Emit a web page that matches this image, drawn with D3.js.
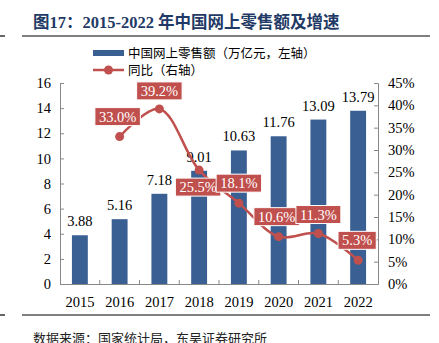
<!DOCTYPE html>
<html><head><meta charset="utf-8">
<script src="https://cdn.jsdelivr.net/npm/d3@7"></script>
<style>body{margin:0;background:#fff}svg{display:block}</style>
</head><body>
<svg id="c" width="439" height="343"></svg>
<script>
const years = ["2015","2016","2017","2018","2019","2020","2021","2022"];
const sales = [3.88,5.16,7.18,9.01,10.63,11.76,13.09,13.79];
const growth = [null,33.0,39.2,25.5,18.1,10.6,11.3,5.3];
const leftTicks = [0,2,4,6,8,10,12,14,16];
const rightTicks = [0,5,10,15,20,25,30,35,40,45];

const svg = d3.select("#c");
const serif = "'Liberation Serif','Times New Roman',serif";
const cjk = "'Liberation Serif','Noto Sans CJK SC',sans-serif";
const blue = "#3A5F93", red = "#C0504D";
const L = 60, R = 378, T = 83, B = 284;

// title and rules
svg.append("text").attr("x",33).attr("y",28).attr("fill","#1F3A66")
  .attr("font-family",cjk).attr("font-weight","bold").attr("font-size",16.5)
  .text("图17：2015-2022 年中国网上零售额及增速");
[[36],[315]].forEach(([y])=>{
  svg.append("line").attr("x1",0).attr("x2",5).attr("y1",y).attr("y2",y).attr("stroke","#000").attr("stroke-width",1.2);
  svg.append("line").attr("x1",22).attr("x2",430).attr("y1",y).attr("y2",y).attr("stroke","#000").attr("stroke-width",1.2);
});
svg.append("text").attr("x",33).attr("y",343).attr("fill","#222")
  .attr("font-family","'Noto Sans CJK SC',sans-serif").attr("font-size",13)
  .text("数据来源：国家统计局，东吴证券研究所");

const x = d3.scaleBand().domain(years).range([L,R]).paddingInner(0.6).paddingOuter(0.3);
const xc = d => x(d) + x.bandwidth()/2;
const yl = d3.scaleLinear().domain([0,16]).range([B,T]);
const yr = d3.scaleLinear().domain([0,45]).range([B,T]);

// bars
svg.selectAll("rect.bar").data(years).join("rect").attr("class","bar")
  .attr("x",d=>x(d)).attr("width",x.bandwidth())
  .attr("y",(d,i)=>yl(sales[i])).attr("height",(d,i)=>B-yl(sales[i]))
  .attr("fill",blue);
svg.selectAll("text.bl").data(years).join("text").attr("class","bl")
  .attr("x",d=>xc(d)).attr("y",(d,i)=>yl(sales[i])-9)
  .attr("text-anchor","middle").attr("font-family",serif).attr("font-size",14.5)
  .text((d,i)=>sales[i].toFixed(2));

// axes
const gl = svg.append("g").attr("transform",`translate(${L},0)`)
  .call(d3.axisLeft(yl).tickValues(leftTicks).tickSize(-4).tickPadding(9));
const gr = svg.append("g").attr("transform",`translate(${R},0)`)
  .call(d3.axisRight(yr).tickValues(rightTicks).tickSize(-4).tickPadding(10).tickFormat(d=>d+"%"));
const gx = svg.append("g").attr("transform",`translate(0,${B})`)
  .call(d3.axisBottom(x).tickSize(0).tickPadding(13));
[gl,gr,gx].forEach(g=>{
  g.select(".domain").attr("stroke","#888");
  g.selectAll(".tick line").attr("stroke","#888");
  g.selectAll("text").attr("font-family",serif).attr("font-size",14.5).attr("fill","#000");
});
const bounds = d3.range(1,years.length).map(i=>x(years[i]) - x.step()*x.paddingInner()/2);
svg.selectAll("line.sep").data(bounds).join("line").attr("class","sep")
  .attr("x1",d=>d).attr("x2",d=>d).attr("y1",B).attr("y2",B-4).attr("stroke","#888");

// line
const pts = years.map((d,i)=>({x:xc(d),y:growth[i]==null?null:yr(growth[i]),v:growth[i]})).filter(p=>p.v!=null);
svg.append("path").datum(pts)
  .attr("d",d3.line().x(p=>p.x).y(p=>p.y).curve(d3.curveCatmullRom.alpha(0.5)))
  .attr("fill","none").attr("stroke",red).attr("stroke-width",2.5);
svg.selectAll("circle.pt").data(pts).join("circle").attr("class","pt")
  .attr("cx",p=>p.x).attr("cy",p=>p.y).attr("r",4.5).attr("fill",red);

// labels
const offs = {"33":[-2,-20],"39.2":[0,-18],"25.5":[-1,17],"18.1":[0,-20],"10.6":[-2,-20],"11.3":[0,-19],"5.3":[-1,-20]};
pts.forEach(p=>{
  const o = offs[String(p.v)] || [0,-19];
  const cx = p.x+o[0], cy = p.y+o[1];
  const t = p.v.toFixed(1)+"%";
  const g = svg.append("g");
  const txt = g.append("text").attr("x",cx).attr("y",cy+5).attr("text-anchor","middle")
    .attr("font-family",serif).attr("font-size",14.5).attr("fill","#fff").text(t);
  const w = txt.node().getComputedTextLength()+8;
  g.insert("rect","text").attr("x",cx-w/2).attr("y",cy-9).attr("width",w).attr("height",18)
    .attr("fill",red).attr("stroke","#fff").attr("stroke-width",1);
});

// legend
svg.append("rect").attr("x",93).attr("y",50).attr("width",31).attr("height",6).attr("fill",blue);
svg.append("text").attr("x",128).attr("y",57.5).attr("font-family","'Noto Sans CJK SC',sans-serif")
  .attr("font-size",12.5).attr("fill","#000").text("中国网上零售额（万亿元，左轴）");
svg.append("line").attr("x1",93).attr("x2",124).attr("y1",70).attr("y2",70).attr("stroke",red).attr("stroke-width",2.5);
svg.append("circle").attr("cx",108.5).attr("cy",70).attr("r",4.5).attr("fill",red);
svg.append("text").attr("x",128).attr("y",75).attr("font-family","'Noto Sans CJK SC',sans-serif")
  .attr("font-size",12.5).attr("fill","#000").text("同比（右轴）");
</script>
</body></html>
